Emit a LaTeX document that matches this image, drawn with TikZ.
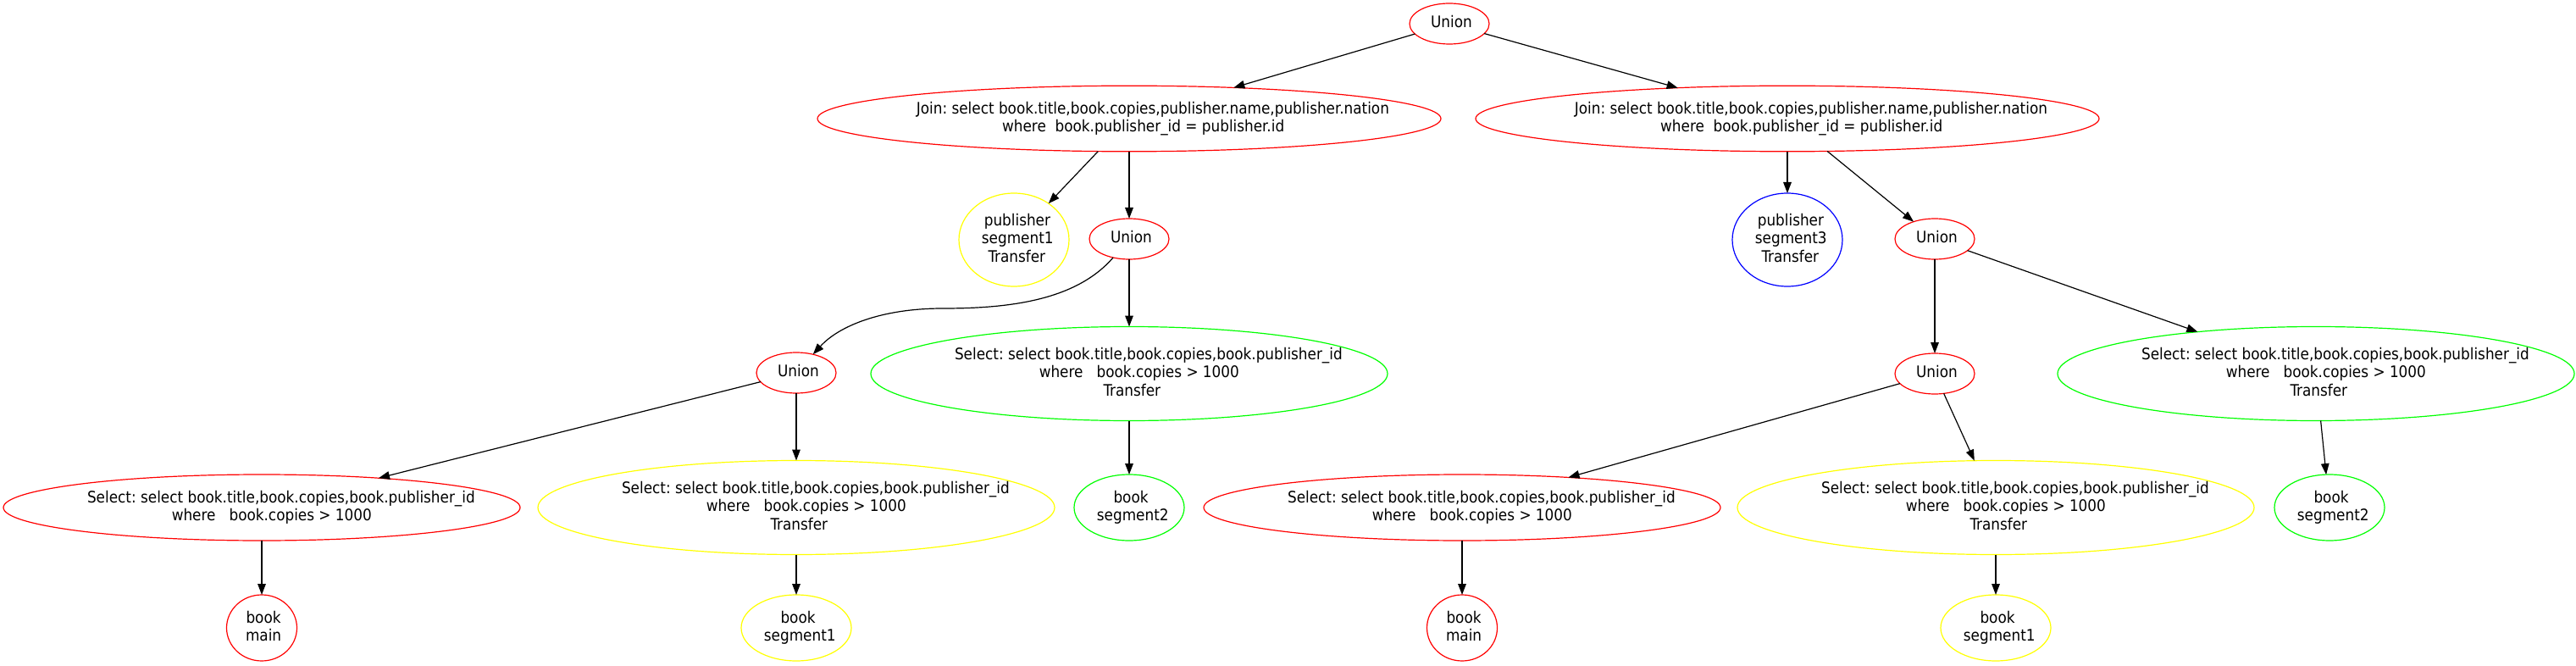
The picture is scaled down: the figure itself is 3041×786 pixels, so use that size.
\documentclass[tikz,border=0pt]{standalone}
\usepackage{fontspec}
\setmainfont{DejaVu Sans Condensed}
\usetikzlibrary{shapes.geometric,arrows.meta}
\definecolor{gvred}{rgb}{1,0,0}
\definecolor{gvyellow}{rgb}{1,1,0}
\definecolor{gvgreen}{rgb}{0,1,0}
\definecolor{gvblue}{rgb}{0,0,1}
\frenchspacing
% one text line: strut + slight right shift (as in the reference)
\newcommand\gvl[1]{\setbox0=\hbox{\rule[-2.2pt]{0pt}{8.2pt}#1}\hbox{\hskip0.1\wd0\box0}}
% zero-size centred block of lines separated by \cr
\newcommand\gvt[1]{\vbox to 0pt{\vss\hbox to 0pt{\hss\vbox{\baselineskip=10.85pt\lineskiplimit=-100pt\halign{\hfil##\hfil\cr#1\crcr}}\hss}\vss}}
\newcommand\selline{\gvl{Select: select book.title,book.copies,book.publisher\_id}}
\newcommand\whereline{\gvl{where\ \ \ book.copies > 1000}}
\newcommand\joinline{\gvl{Join: select book.title,book.copies,publisher.name,publisher.nation}}
\newcommand\joinwhere{\gvl{where\ \ book.publisher\_id = publisher.id}}
\tikzset{
  gvnode/.style={ellipse, draw, line width=0.6pt, inner sep=0pt, outer sep=0pt,
    font=\fontsize{9.37}{10.85}\selectfont, text=black},
  gvedge/.style={-{Triangle[length=6.5pt,width=4.8pt]}, line width=0.6pt, black},
  unionnode/.style={gvnode, draw=gvred, minimum width=47pt, minimum height=24pt},
  joinnode/.style={gvnode, draw=gvred, minimum width=368pt, minimum height=38.8pt},
  selshort/.style={gvnode, draw=#1, minimum width=305pt, minimum height=39pt},
  seltall/.style={gvnode, draw=#1, minimum width=305pt, minimum height=55.5pt},
  pubnode/.style={gvnode, draw=#1, minimum width=65pt, minimum height=55pt},
  bookmain/.style={gvnode, draw=gvred, minimum width=41.5pt, minimum height=39pt},
  bookseg/.style={gvnode, draw=#1, minimum width=65pt, minimum height=39pt},
}
\begin{document}
\begin{tikzpicture}[x=0.5pt, y=-0.5pt]
\useasboundingbox (0,0) rectangle (3041,786);
% level 0
\node[unionnode] (u0) at (1711,28) {\gvt{\gvl{Union}}};
% level 1
\node[joinnode] (j1) at (1333,140) {\gvt{\joinline\cr\joinwhere}};
\node[joinnode] (j2) at (2110,140) {\gvt{\joinline\cr\joinwhere}};
% level 2
\node[pubnode=gvyellow] (p1) at (1197,283) {\gvt{\gvl{publisher}\cr\gvl{segment1}\cr\gvl{Transfer}}};
\node[unionnode] (u1) at (1333,282) {\gvt{\gvl{Union}}};
\node[pubnode=gvblue] (p3) at (2110,283) {\gvt{\gvl{publisher}\cr\gvl{segment3}\cr\gvl{Transfer}}};
\node[unionnode] (u2) at (2284,282) {\gvt{\gvl{Union}}};
% level 3
\node[unionnode] (u3) at (940,440) {\gvt{\gvl{Union}}};
\node[seltall=gvgreen] (s1) at (1333,441) {\gvt{\selline\cr\whereline\cr\gvl{Transfer}}};
\node[unionnode] (u4) at (2284,441) {\gvt{\gvl{Union}}};
\node[seltall=gvgreen] (s2) at (2734,441) {\gvt{\selline\cr\whereline\cr\gvl{Transfer}}};
% level 4
\node[selshort=gvred] (s3) at (309,599) {\gvt{\selline\cr\whereline}};
\node[seltall=gvyellow] (s4) at (940,599) {\gvt{\selline\cr\whereline\cr\gvl{Transfer}}};
\node[bookseg=gvgreen] (b2) at (1333,599) {\gvt{\gvl{book}\cr\gvl{segment2}}};
\node[selshort=gvred] (s5) at (1726,599) {\gvt{\selline\cr\whereline}};
\node[seltall=gvyellow] (s6) at (2356,599) {\gvt{\selline\cr\whereline\cr\gvl{Transfer}}};
\node[bookseg=gvgreen] (b2b) at (2750,599) {\gvt{\gvl{book}\cr\gvl{segment2}}};
% level 5
\node[bookmain] (bm1) at (309,741) {\gvt{\gvl{book}\cr\gvl{main}}};
\node[bookseg=gvyellow] (bs1) at (940,741) {\gvt{\gvl{book}\cr\gvl{segment1}}};
\node[bookmain] (bm2) at (1726,741) {\gvt{\gvl{book}\cr\gvl{main}}};
\node[bookseg=gvyellow] (bs1b) at (2356,741) {\gvt{\gvl{book}\cr\gvl{segment1}}};
% edges
\draw[gvedge] (u0) -- (j1);
\draw[gvedge] (u0) -- (j2);
\draw[gvedge] (j1) -- (p1);
\draw[gvedge] (j1) -- (u1);
\draw[gvedge] (j2) -- (p3);
\draw[gvedge] (j2) -- (u2);
\draw[gvedge] (u1) .. controls (1270,355) and (1190,364) .. (1113,364)
  .. controls (1040,364) and (990,385) .. (u3);
\draw[gvedge] (u1) -- (s1);
\draw[gvedge] (u2) -- (u4);
\draw[gvedge] (u2) -- (s2);
\draw[gvedge] (u3) -- (s3);
\draw[gvedge] (u3) -- (s4);
\draw[gvedge] (s1) -- (b2);
\draw[gvedge] (u4) -- (s5);
\draw[gvedge] (u4) -- (s6);
\draw[gvedge] (s2) -- (b2b);
\draw[gvedge] (s3) -- (bm1);
\draw[gvedge] (s4) -- (bs1);
\draw[gvedge] (s5) -- (bm2);
\draw[gvedge] (s6) -- (bs1b);
\end{tikzpicture}
\end{document}
